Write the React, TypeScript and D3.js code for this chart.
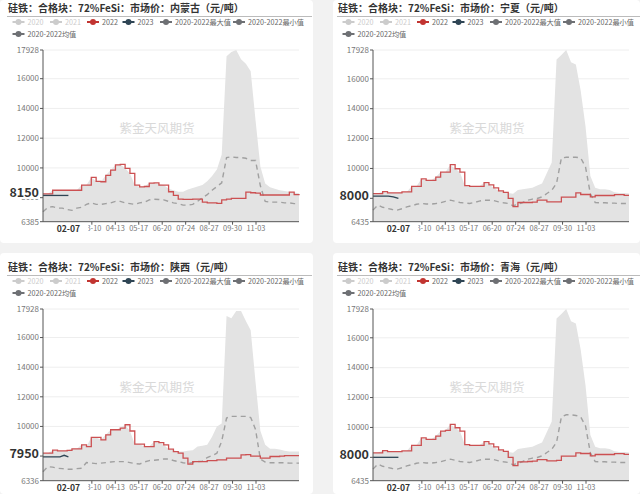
import React from "react";
import * as d3 from "d3";

const W = 640;
const H = 494;
const CAT_MAX = 262;
const latestDate = "02-07";
const latestIdx = 26;
const tickStep = 24;
const dateTicks = ["03-10", "04-13", "05-17", "06-20", "07-24", "08-27", "09-30", "11-03"];

const legendNames = ["2020", "2021", "2022", "2023", "2020-2022最大值", "2020-2022最小值", "2020-2022均值"];
const legendColors = ["#cccccc", "#cccccc", "#c23531", "#2f4554", "#6e7074", "#6e7074", "#6e7074"];
const legendActive = [false, false, true, true, true, true, true];

// 内蒙古
const nmg2022 = [8250,8250,8500,8500,8500,8500,8500,8500,8850,8850,9360,9100,9070,9500,9850,10200,10240,9970,9630,8850,8720,8750,8980,9000,8850,8850,8400,8150,7900,7880,7880,7900,7900,7700,7650,7650,7620,7850,7900,7950,7950,7950,8380,8330,8300,8180,8180,8180,8180,8180,8180,8380,8200,8250];
const nmgMax = [8250,8250,8500,8500,8500,8500,8500,8500,8850,8850,9360,9100,9070,9500,9850,10200,10240,9970,9630,8850,8720,8750,8980,9000,8900,8850,8600,8500,8400,8400,8550,8650,8750,8850,9100,9450,9900,10900,17500,17800,17928,17300,17000,16500,13200,10100,8950,8700,8600,8500,8450,8400,8350,8300];
const nmgAvg = [7050,7350,7400,7300,7300,7200,7150,7300,7350,7550,7650,7550,7550,7600,7650,7750,7750,7650,7600,7550,7650,7700,7850,7900,7880,7850,7750,7650,7600,7500,7500,7550,7750,8000,8200,8500,8750,9000,10700,10750,10700,10700,10650,10500,10500,8800,7750,7700,7700,7700,7650,7650,7600,7600];
const nmg2023 = [8150,8150,8150,8150,8150,8150];

// 宁夏
const nx2022 = [8320,8320,8450,8360,8360,8360,8430,8430,8800,8800,9300,9200,9200,9420,9750,9750,10250,9980,9750,8850,8800,8800,8800,9050,8900,8700,8500,8400,8000,7450,7720,7720,7720,7750,7875,7875,7765,7765,7765,8080,8080,8080,8360,8255,8255,8095,8190,8190,8190,8190,8250,8250,8200,8200];
const nxMax = [8320,8320,8450,8360,8360,8360,8430,8430,8800,8800,9300,9200,9200,9420,9750,9750,10250,9980,9750,8850,8800,8800,8800,9050,8900,8700,8500,8450,8350,8300,8550,8600,8650,8700,8850,8985,9700,10400,17300,17600,17928,17100,16950,15200,12800,9500,8700,8600,8600,8550,8400,8350,8350,8320];
const nxAvg = [7210,7545,7400,7325,7250,7210,7300,7430,7500,7600,7655,7620,7610,7650,7700,7800,7875,7800,7720,7680,7655,7720,7810,7875,7875,7850,7765,7700,7655,7500,7600,7720,7875,7950,7990,8100,8320,8540,9000,10700,10750,10750,10750,10700,10100,8300,7720,7700,7700,7680,7680,7650,7650,7650];
const nx2023 = [8150,8150,8150,8150,8100,8000];

// 陕西
const sx2022 = [8195,8195,8400,8350,8350,8380,8487,8487,8758,8640,9260,9260,9097,9436,9776,9776,9890,10115,9690,8805,8805,8640,8640,8980,8900,8758,8466,8300,8195,7856,7450,7625,7625,7625,7693,7693,7740,7740,7856,7856,7856,8080,8100,8000,8000,7856,7856,7970,7970,8000,8030,8030,8030,8030];
const sxMax = [8195,8195,8400,8350,8350,8380,8487,8487,8758,8640,9260,9260,9097,9436,9776,9776,9890,10115,9690,8805,8805,8640,8640,8980,8900,8758,8466,8400,8300,8300,8350,8400,8640,8700,8760,9300,10000,10200,17460,17300,17800,17800,17120,16500,13000,9700,8758,8500,8500,8450,8350,8300,8300,8300];
const sxAvg = [6946,7286,7250,7177,7150,7110,7110,7150,7177,7558,7530,7490,7520,7558,7600,7625,7625,7625,7560,7490,7460,7600,7693,7720,7750,7800,7800,7700,7625,7550,7490,7560,7625,7650,7900,8030,8195,9000,10570,10680,10680,10680,10680,10600,9800,7800,7600,7550,7550,7550,7550,7520,7520,7520];
const sx2023 = [7950,7950,7950,7950,7950,8050,7950];

// 青海
const qh2022 = [8300,8300,8450,8380,8380,8380,8430,8430,8800,8800,9300,9200,9200,9420,9750,9800,10200,9980,9750,8850,8800,8800,8800,9050,8900,8700,8500,8400,8000,7450,7700,7700,7720,7750,7850,7850,7765,7765,7800,8080,8080,8080,8300,8255,8255,8095,8190,8190,8190,8190,8250,8250,8200,8200];
const qhMax = [8300,8300,8450,8380,8380,8380,8430,8430,8800,8800,9300,9200,9200,9420,9750,9800,10200,9980,9750,8850,8800,8800,8800,9050,8900,8700,8500,8450,8350,8300,8550,8600,8650,8700,8850,8985,9700,10400,17300,17600,17928,17100,16950,15200,12800,9500,8700,8600,8600,8550,8400,8350,8350,8320];
const qhAvg = [7210,7545,7400,7325,7250,7210,7300,7430,7500,7600,7655,7620,7610,7650,7700,7800,7875,7800,7720,7680,7655,7720,7810,7875,7875,7850,7765,7700,7655,7500,7600,7720,7875,7950,7990,8100,8320,8540,9000,10700,10850,10850,10800,10700,10100,8300,7720,7700,7700,7680,7680,7650,7650,7650];
const qh2023 = [8000,8000,8000,8000,8000,8000];

const yMaxAll = 17928;
const yMins = [6385, 6435, 6336, 6435];
const latestValues = [8150, 8000, 7950, 8000];
const regions = ["内蒙古", "宁夏", "陕西", "青海"];

const FONT = "'Noto Sans CJK SC', 'Noto Sans', sans-serif";

type PanelProps = {
  ox: number; oy: number; region: string;
  s2022: number[]; sMax: number[]; sAvg: number[]; s2023: number[];
  yMin: number; latest: number;
};

function Panel({ ox, oy, region, s2022, sMax, sAvg, s2023, yMin, latest }: PanelProps) {
  const left = 43, right = 299, top = 50, bottom = 221.7;
  const x = d3.scaleLinear().domain([0, CAT_MAX]).range([left, right]);
  const y = d3.scaleLinear().domain([yMin, yMaxAll]).range([bottom, top]);
  const wk = (i: number, n: number) => (i * CAT_MAX) / (n - 1);
  const step = d3.line<number>().x((d, i) => x(wk(i, s2022.length))).y((d) => y(d)).curve(d3.curveStepAfter);
  const area = d3.area<number>().x((d, i) => x(wk(i, sMax.length))).y0(bottom).y1((d) => y(d));
  const avg = d3.line<number>().x((d, i) => x(wk(i, sAvg.length))).y((d) => y(d));
  const l23 = d3.line<number>().x((d, i) => x((i * latestIdx) / (s2023.length - 1))).y((d) => y(d));
  const yTicks = [yMin, 8000, 10000, 12000, 14000, 16000, yMaxAll];
  const xTickIdx = dateTicks.map((_, k) => latestIdx + tickStep * (k + 1));
  const legendX = [18.5, 56, 93, 128.5, 166, 239, 18.5];
  const legendY = [22, 22, 22, 22, 22, 22, 34];
  return (
    <g transform={`translate(${ox},${oy})`}>
      <text x={8} y={12} fontSize={10} fontWeight="bold" fill="#333" fontFamily={FONT}>
        {`硅铁：合格块：72%FeSi：市场价：${region}（元/吨）`}
      </text>
      <line x1={7} x2={312} y1={16.5} y2={16.5} stroke="#bbb" strokeWidth={1} />
      {legendNames.map((n, i) => (
        <g key={n}>
          <line x1={legendX[i] - 6} x2={legendX[i] + 6} y1={legendY[i]} y2={legendY[i]} stroke={legendColors[i]} strokeWidth={2} />
          <circle cx={legendX[i]} cy={legendY[i]} r={3} fill={legendColors[i]} />
          <text x={legendX[i] + 9} y={legendY[i] + 2.5} fontSize={7.2} fill={legendActive[i] ? "#666" : "#ccc"} fontFamily={FONT}>{n}</text>
        </g>
      ))}
      {yTicks.slice(1).map((t) => (
        <line key={t} x1={left} x2={right} y1={y(t)} y2={y(t)} stroke="#eee" strokeWidth={1} />
      ))}
      <path d={area(sMax) || ""} fill="#e3e3e3" />
      <text x={157} y={133} fontSize={12.5} fill="#d9d9d9" textAnchor="middle" fontFamily={FONT}>紫金天风期货</text>
      <path d={avg(sAvg) || ""} fill="none" stroke="#a0a0a0" strokeWidth={1.4} strokeDasharray="5,4" />
      <path d={step(s2022) || ""} fill="none" stroke="#cc5052" strokeWidth={1.3} />
      <path d={l23(s2023) || ""} fill="none" stroke="#2f4554" strokeWidth={1.3} />
      <line x1={left} x2={left} y1={top} y2={bottom} stroke="#555" strokeWidth={1} />
      <line x1={left} x2={right} y1={bottom} y2={bottom} stroke="#555" strokeWidth={1} />
      {yTicks.map((t) => (
        <g key={t}>
          <line x1={left - 3} x2={left} y1={y(t)} y2={y(t)} stroke="#555" />
          {Math.abs(t - latest) > 60 && (
            <text x={left - 4} y={y(t) + 2.8} fontSize={8} fill="#777" textAnchor="end" fontFamily={FONT}>{t}</text>
          )}
        </g>
      ))}
      {xTickIdx.map((ix, k) => (
        <g key={ix}>
          <line x1={x(ix)} x2={x(ix)} y1={bottom} y2={bottom + 3} stroke="#555" />
          <text x={x(ix)} y={bottom + 9} fontSize={7.4} fill="#777" textAnchor="middle" fontFamily={FONT}>{dateTicks[k]}</text>
        </g>
      ))}
      <rect x={x(latestIdx) - 20} y={bottom + 1.5} width={40} height={12} fill="#fff" />
      <text x={x(latestIdx)} y={bottom + 10} fontSize={8.6} fontWeight="bold" fill="#333" textAnchor="middle" fontFamily={FONT}>{latestDate}</text>
      <rect x={6} y={y(latest) - 9} width={34} height={12.5} fill="#fff" />
      <text x={left - 4} y={y(latest) + 1.5} fontSize={12.5} fontWeight="bold" fill="#333" textAnchor="end" fontFamily={FONT}>{latest}</text>
    </g>
  );
}

export default function App() {
  const data = [
    { s2022: nmg2022, sMax: nmgMax, sAvg: nmgAvg, s2023: nmg2023 },
    { s2022: nx2022, sMax: nxMax, sAvg: nxAvg, s2023: nx2023 },
    { s2022: sx2022, sMax: sxMax, sAvg: sxAvg, s2023: sx2023 },
    { s2022: qh2022, sMax: qhMax, sAvg: qhAvg, s2023: qh2023 },
  ];
  const offsets = [[0, 0], [330, 0], [0, 259], [330, 259]];
  const cards = [[0, 0, 313, 243], [333, 0, 307, 243], [0, 253, 313, 241], [333, 253, 307, 241]];
  return (
    <div style={{ position: "absolute", left: 0, top: 0 }}>
      <svg width={W} height={H} style={{ display: "block", background: "#f2f2f2" }}>
        {cards.map((c, i) => (
          <rect key={i} x={c[0]} y={c[1]} width={c[2]} height={c[3]} rx={4} fill="#fff" />
        ))}
        {data.map((d, i) => (
          <Panel key={i} ox={offsets[i][0]} oy={offsets[i][1]} region={regions[i]} {...d} yMin={yMins[i]} latest={latestValues[i]} />
        ))}
      </svg>
    </div>
  );
}
